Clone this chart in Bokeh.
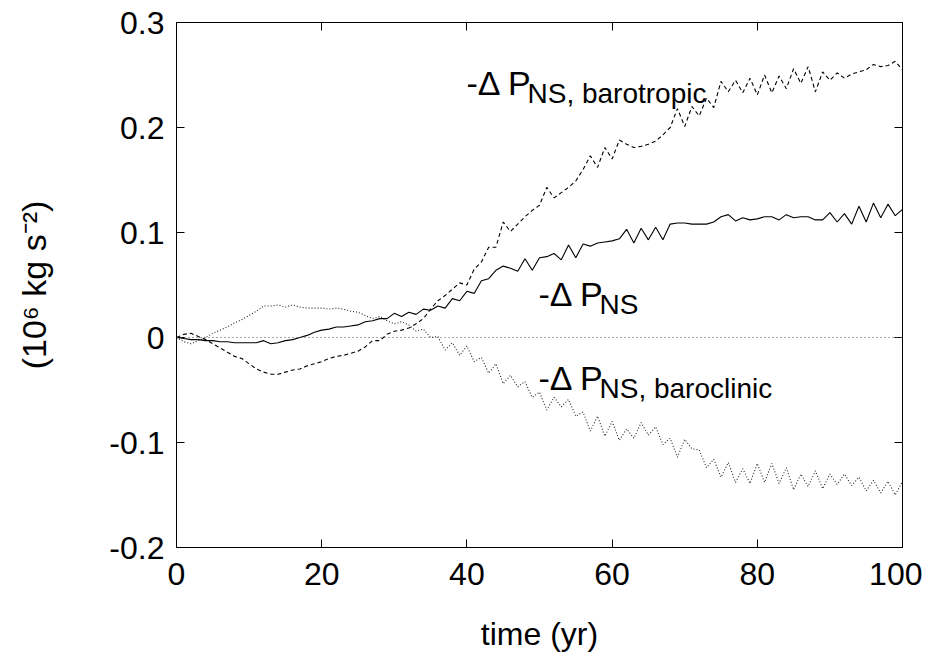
from bokeh.plotting import figure
from bokeh.models import (Range1d, Span, Label, LinearAxis, FixedTicker,
                          Title, CustomJSTickFormatter)
from bokeh.embed import file_html
from bokeh.resources import INLINE

# ---------------- data ----------------
years = list(range(0, 101))

dp_total = [
    0.000, -0.001, -0.002, -0.002, -0.003, -0.003, -0.004, -0.004, -0.005, -0.005,
    -0.005, -0.005, -0.003, -0.006, -0.005, -0.003, -0.002, 0.000, 0.002, 0.005,
    0.007, 0.008, 0.010, 0.010, 0.011, 0.012, 0.015, 0.016, 0.018, 0.018,
    0.023, 0.020, 0.024, 0.022, 0.027, 0.026, 0.030, 0.028, 0.037, 0.035,
    0.044, 0.042, 0.054, 0.056, 0.064, 0.068, 0.066, 0.063, 0.075, 0.064,
    0.076, 0.077, 0.080, 0.074, 0.088, 0.076, 0.089, 0.087, 0.090, 0.091,
    0.092, 0.094, 0.103, 0.090, 0.104, 0.093, 0.105, 0.093, 0.108, 0.109,
    0.109, 0.108, 0.108, 0.108, 0.110, 0.115, 0.117, 0.111, 0.114, 0.112,
    0.113, 0.115, 0.115, 0.112, 0.117, 0.114, 0.115, 0.115, 0.112, 0.112,
    0.119, 0.110, 0.118, 0.108, 0.125, 0.110, 0.128, 0.114, 0.127, 0.116,
    0.122,
]

dp_barotropic = [
    0.000, 0.003, 0.004, 0.001, -0.002, -0.006, -0.010, -0.014, -0.018, -0.020,
    -0.025, -0.030, -0.033, -0.035, -0.035, -0.033, -0.031, -0.030, -0.027, -0.025,
    -0.023, -0.020, -0.018, -0.017, -0.015, -0.013, -0.009, -0.003, -0.003, 0.003,
    0.006, 0.007, 0.009, 0.013, 0.018, 0.027, 0.035, 0.040, 0.046, 0.052,
    0.050, 0.065, 0.072, 0.086, 0.086, 0.110, 0.101, 0.108, 0.115, 0.121,
    0.126, 0.143, 0.133, 0.138, 0.143, 0.149, 0.160, 0.173, 0.162, 0.181,
    0.170, 0.188, 0.184, 0.181, 0.182, 0.184, 0.187, 0.193, 0.200, 0.218,
    0.201, 0.220, 0.211, 0.228, 0.219, 0.244, 0.234, 0.245, 0.233, 0.247,
    0.231, 0.250, 0.233, 0.249, 0.237, 0.256, 0.242, 0.258, 0.234, 0.253,
    0.245, 0.252, 0.247, 0.251, 0.253, 0.255, 0.260, 0.258, 0.259, 0.263,
    0.255,
]

dp_baroclinic = [
    0.000, -0.004, -0.006, -0.003, 0.000, 0.004, 0.007, 0.010, 0.014, 0.017,
    0.021, 0.025, 0.030, 0.030, 0.031, 0.029, 0.031, 0.029, 0.028, 0.028,
    0.028, 0.027, 0.028, 0.027, 0.025, 0.024, 0.021, 0.018, 0.020, 0.016,
    0.013, 0.015, 0.012, 0.006, 0.008, 0.000, 0.001, -0.012, -0.005, -0.017,
    -0.008, -0.023, -0.019, -0.034, -0.025, -0.044, -0.036, -0.047, -0.042, -0.057,
    -0.052, -0.069, -0.057, -0.066, -0.059, -0.075, -0.071, -0.089, -0.075, -0.094,
    -0.080, -0.098, -0.087, -0.096, -0.081, -0.093, -0.085, -0.102, -0.096, -0.114,
    -0.097, -0.106, -0.107, -0.124, -0.116, -0.133, -0.119, -0.138, -0.125, -0.139,
    -0.120, -0.138, -0.120, -0.139, -0.124, -0.145, -0.130, -0.142, -0.127, -0.144,
    -0.130, -0.140, -0.130, -0.141, -0.133, -0.146, -0.136, -0.148, -0.137, -0.150,
    -0.137,
]

x_ticks = [0, 20, 40, 60, 80, 100]
y_ticks = [-0.2, -0.1, 0, 0.1, 0.2, 0.3]
y_tick_labels = ["-0.2", "-0.1", "0", "0.1", "0.2", "0.3"]

x_title = "time (yr)"
y_title = "(10\u2076 kg s\u207b\u00b2)"
curve_labels = [
    ("-\u0394 P", "NS, barotropic"),
    ("-\u0394 P", "NS"),
    ("-\u0394 P", "NS, baroclinic"),
]

# ---------------- layout ----------------
FONT = "Liberation Sans"
FRAME_L, FRAME_T, FRAME_W, FRAME_H = 176, 22, 726, 525   # canvas pixels
X0, X1, Y0, Y1 = 0, 100, -0.2, 0.3


def px2x(px):
    return X0 + (px - FRAME_L) * (X1 - X0) / FRAME_W


def py2y(py):
    return Y1 - (py - FRAME_T) * (Y1 - Y0) / FRAME_H


p = figure(
    frame_width=FRAME_W, frame_height=FRAME_H,
    x_range=Range1d(X0, X1), y_range=Range1d(Y0, Y1),
    output_backend="svg", toolbar_location=None,
    min_border_left=FRAME_L, min_border_top=FRAME_T,
    min_border_right=20, min_border_bottom=110,
    background_fill_color="white", border_fill_color="white",
)
p.xgrid.visible = False
p.ygrid.visible = False
p.outline_line_color = "black"
p.outline_line_width = 1

for ax in (p.xaxis[0], p.yaxis[0]):
    ax.major_tick_in = 8
    ax.major_tick_out = 0
    ax.minor_tick_in = 0
    ax.minor_tick_out = 0
    ax.axis_line_color = "black"
    ax.major_tick_line_color = "black"
    ax.major_label_text_font = FONT
    ax.major_label_text_font_size = "32px"
    ax.major_label_text_color = "black"

p.xaxis.major_label_standoff = 15
p.yaxis.major_label_standoff = 12
p.xaxis.ticker = FixedTicker(ticks=x_ticks)
p.yaxis.ticker = FixedTicker(ticks=y_ticks)
p.yaxis.major_label_overrides = {v: s for v, s in zip(y_ticks, y_tick_labels)}
p.xaxis.axis_label = x_title
p.xaxis.axis_label_text_font = FONT
p.xaxis.axis_label_text_font_size = "32px"
p.xaxis.axis_label_text_font_style = "normal"
p.xaxis.axis_label_text_color = "black"
p.xaxis.axis_label_standoff = 28

# mirror ticks (right and top), no labels
for side, ticks in (("right", y_ticks), ("above", x_ticks)):
    ax = LinearAxis(ticker=FixedTicker(ticks=ticks),
                    formatter=CustomJSTickFormatter(code="return ''"))
    ax.major_tick_in = 8
    ax.major_tick_out = 0
    ax.minor_tick_in = 0
    ax.minor_tick_out = 0
    ax.major_label_standoff = 0
    ax.axis_line_color = "black"
    ax.major_tick_line_color = "black"
    p.add_layout(ax, side)

# invisible spacer between the tick labels and the y title
spacer = LinearAxis(ticker=FixedTicker(ticks=[y_ticks[-1]]),
                    formatter=CustomJSTickFormatter(code="return ''"))
spacer.major_tick_in = 0
spacer.major_tick_out = 48
spacer.minor_tick_in = 0
spacer.minor_tick_out = 0
spacer.major_label_standoff = 0
spacer.axis_line_color = None
spacer.major_tick_line_color = None
spacer.minor_tick_line_color = None
p.add_layout(spacer, "left")

# y-axis title, vertical, centred on the plot height
p.add_layout(Title(text=y_title, align="center", standoff=12,
                   text_font=FONT, text_font_size="34px",
                   text_font_style="normal", text_color="black"), "left")

# zero line
p.add_layout(Span(location=0, dimension="width", line_color="#555555",
                  line_width=1, line_dash="1 3"))

# curves
p.line(years, dp_total, line_color="black", line_width=1.1)
p.line(years, dp_barotropic, line_color="black", line_width=1.1, line_dash="4 3")
p.line(years, dp_baroclinic, line_color="#222222", line_width=1.1, line_dash="1 2")

# curve labels: (main start px, main baseline py, sub start px, sub baseline py)
label_pos = [
    (466, 82, 527, 93),
    (538, 293, 599, 304),
    (538, 377, 599, 388),
]
for (main, sub), (mx, my, sx, sy) in zip(curve_labels, label_pos):
    p.add_layout(Label(x=px2x(mx), y=py2y(my), text=main, text_font=FONT,
                       text_font_size="34px", text_color="black",
                       text_align="left", text_baseline="alphabetic"))
    p.add_layout(Label(x=px2x(sx), y=py2y(sy), text=sub, text_font=FONT,
                       text_font_size="28px", text_color="black",
                       text_align="left", text_baseline="alphabetic"))

open("out.html", "w").write(file_html(p, INLINE))
